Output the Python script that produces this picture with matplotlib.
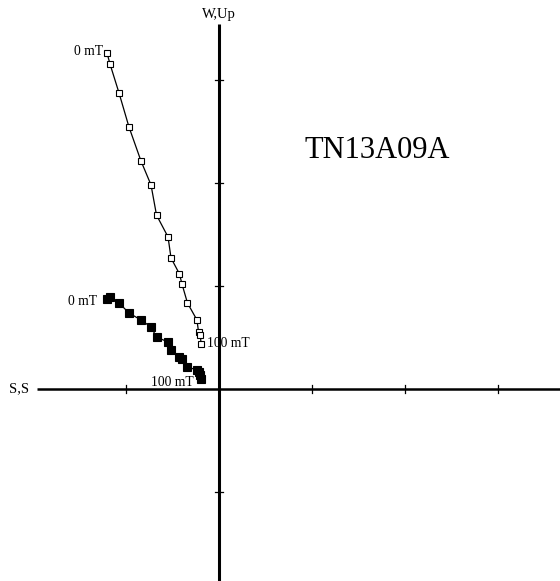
import matplotlib
matplotlib.use("Agg")
import matplotlib.pyplot as plt

# Demagnetisation steps (orthogonal vector components, tick spacing = 1 unit)
north = [-1.204, -1.172, -1.075, -0.968, -0.839, -0.731, -0.672, -0.548,
         -0.516, -0.425, -0.398, -0.339, -0.237, -0.220, -0.199, -0.194]
up = [3.262, 3.155, 2.874, 2.544, 2.214, 1.981, 1.689, 1.476,
      1.272, 1.117, 1.019, 0.835, 0.670, 0.553, 0.524, 0.437]
west = [0.874, 0.893, 0.835, 0.738, 0.670, 0.602, 0.505, 0.456,
        0.379, 0.311, 0.291, 0.214, 0.184, 0.165, 0.136, 0.097]
tick_values_x = [-1, 1, 2, 3]
tick_values_y = [-1, 1, 2, 3]
sample = "TN13A09A"
step_first = "0 mT"
step_last = "100 mT"

W, H = 560, 581
ox, oy = 219, 389      # origin in pixels
ux, uy = 93.0, 103.0   # pixels per unit

fig = plt.figure(figsize=(W / 100, H / 100), dpi=100)
ax = fig.add_axes([0, 0, 1, 1])
ax.set_xlim(-ox / ux, (W - ox) / ux)
ax.set_ylim(-(H - oy) / uy, oy / uy)
ax.axis("off")

serif = "Liberation Serif"

# Axes through the origin
ax.plot([(37 - ox) / ux, (W - ox) / ux], [0, 0], color="black", lw=1.8, solid_capstyle="butt")
ax.plot([0, 0], [-(H - oy) / uy, (oy - 24) / uy], color="black", lw=2.2, solid_capstyle="butt")
for t in tick_values_x:
    ax.plot([t, t], [-4 / uy, 4 / uy], color="black", lw=0.9)
for t in tick_values_y:
    ax.plot([-4 / ux, 4 / ux], [t, t], color="black", lw=0.9)

# Horizontal projection (filled) and vertical projection (open)
ax.plot(north, west, color="black", lw=0.9, marker="s", ms=6.0,
        mfc="black", mec="black", mew=0.8, zorder=3)
ax.plot(north, up, color="black", lw=0.9, marker="s", ms=5.0,
        mfc="white", mec="black", mew=0.8, zorder=3)

fs = 9.8
ax.text(north[0] - 4 / ux, up[0] + 2 / uy, step_first, ha="right", va="center",
        fontsize=fs, family=serif)
ax.text(north[0] - 10 / ux, west[0] - 3 / uy, step_first, ha="right", va="center",
        fontsize=fs, family=serif)
ax.text(north[-1] + 6 / ux, up[-1], step_last, ha="left", va="center",
        fontsize=fs, family=serif)
ax.text(north[-1] - 7 / ux, west[-1] - 3 / uy, step_last, ha="right", va="center",
        fontsize=fs, family=serif)

ax.text(0, (oy - 14) / uy, "W,Up", ha="center", va="center", fontsize=10.5, family=serif)
ax.text((19 - ox) / ux, 0, "S,S", ha="center", va="center", fontsize=10.5, family=serif)
ax.text((377 - ox) / ux, (oy - 150) / uy, sample, ha="center", va="center",
        fontsize=22, family=serif)

fig.savefig("out.png", dpi=100, facecolor="white")
